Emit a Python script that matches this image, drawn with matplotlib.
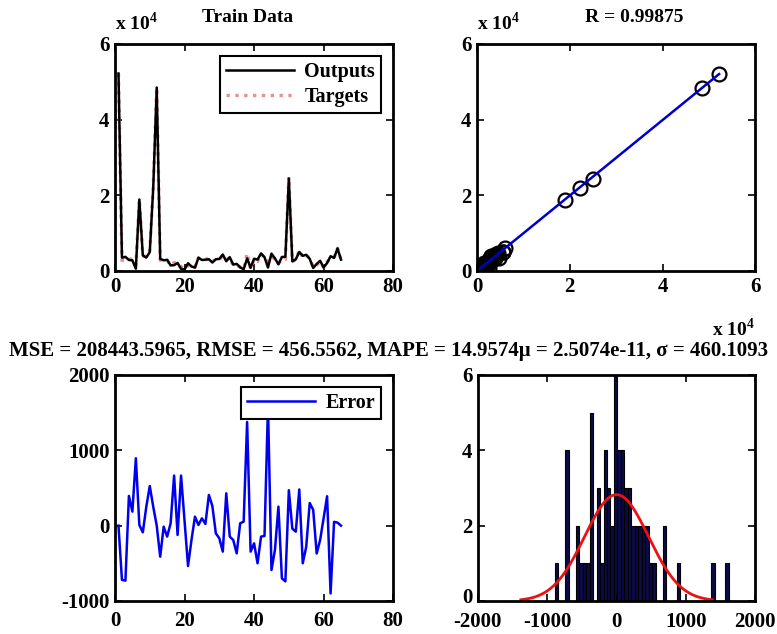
import numpy as np
import matplotlib
matplotlib.use("Agg")
import matplotlib.pyplot as plt
from matplotlib.transforms import ScaledTranslation

plt.rcParams['font.family'] = ['Liberation Serif', 'DejaVu Serif']
plt.rcParams['font.weight'] = 'bold'
plt.rcParams['axes.unicode_minus'] = False
plt.rcParams['mathtext.fontset'] = 'custom'
plt.rcParams['mathtext.rm'] = 'Liberation Serif:bold'
plt.rcParams['mathtext.bf'] = 'Liberation Serif:bold'

# target values (train data)
targets = np.array([
    52200, 2800, 3000, 3300, 3000, 1500, 18900, 4000, 3800, 5500,
    22300, 48500, 2800, 2800, 2800, 1500, 2200, 2000, 1200, 500,
    1500, 1000, 1000, 3500, 3000, 3000, 3500, 2500, 3000, 3000,
    4000, 3000, 3500, 1500, 1500, 1000, 500, 4700, 500, 3000,
    2500, 4500, 3500, 2500, 4000, 3000, 2000, 3000, 3000, 24900,
    2500, 3000, 5500, 3500, 4000, 3500, 1000, 1500, 2500, 1000,
    2500, 3000, 3500, 6000, 3000])

# error = targets - outputs
errors = np.array([
    0, -720, -730, 394, 186, 894, 9, -89, 250, 526,
    250, 0, -412, -14, -146, 31, 664, -124, 664, 66,
    -536, -190, 119, 9, 97, 22, 407, 261, -102, -168,
    -345, 429, -146, -190, -368, 31, 53, 1376, -345, -235,
    -500, -146, -137, 1592, -589, -323, 252, -700, -740, 470,
    -40, -80, 480, -500, -280, 300, 210, -370, -190, 100,
    390, -900, 50, 40, 0])

outputs = targets - errors
samples = np.arange(1, len(targets) + 1)

# histogram of the error (50 bins)
hist_counts = [1, 0, 0, 4, 0, 0, 2, 1, 1, 1,
               5, 0, 3, 1, 4, 3, 2, 6, 4, 4,
               3, 3, 2, 2, 2, 2, 2, 1, 1, 0,
               0, 2, 0, 0, 0, 1, 0, 0, 0, 0,
               0, 0, 0, 0, 0, 1, 0, 0, 0, 1]
hist_lo, hist_hi = -889, 1616

mu = 2.5074e-11
sigma = 460.1093
r_value = 0.99875
mse, rmse, mape = 208443.5965, 456.5562, 14.9574

FS_TICK = 15
FS_TITLE = 14
FS_LEG = 14.5


def style_axes(ax, xpad=4):
    ax.tick_params(direction='in', top=True, right=True, length=5, width=1.2,
                   labelsize=FS_TICK, pad=4)
    ax.tick_params(axis='x', pad=xpad)
    for sp in ax.spines.values():
        sp.set_linewidth(2)
    for lab in ax.get_xticklabels() + ax.get_yticklabels():
        lab.set_fontweight('bold')


def add_legend(ax):
    leg = ax.legend(loc='upper right', fontsize=FS_LEG, handlelength=3.4, fancybox=False,
                    edgecolor='black', borderaxespad=0.6, framealpha=1,
                    borderpad=0.3, labelspacing=0.25, handletextpad=0.5)
    leg.get_frame().set_linewidth(1.5)


fig = plt.figure(figsize=(7.77, 6.34), dpi=100)
ax1 = fig.add_axes([0.148, 0.5726, 0.358, 0.358])
ax2 = fig.add_axes([0.614, 0.5726, 0.358, 0.358])
ax3 = fig.add_axes([0.148, 0.0521, 0.358, 0.3565])
ax4 = fig.add_axes([0.615, 0.0521, 0.357, 0.3565])

# --- train data ---
ax1.plot(samples, outputs, color='black', lw=1.8, zorder=3, label='Outputs')
ax1.plot(samples, targets, color='#e89090', lw=2.4, ls=':', zorder=2, label='Targets')
ax1.set_xlim(0, 80)
ax1.set_ylim(0, 60000)
ax1.set_xticks([0, 20, 40, 60, 80])
ax1.set_yticks([0, 20000, 40000, 60000])
ax1.set_yticklabels(['0', '2', '4', '6'])
ax1.text(0.475, 1.115, 'Train Data', transform=ax1.transAxes, fontsize=FS_TITLE,
         ha='center', va='center')
ax1.text(0.0, 1.045, 'x 10$^4$', transform=ax1.transAxes, fontsize=FS_TITLE, va='bottom')
add_legend(ax1)
style_axes(ax1)

# --- regression ---
coef = np.polyfit(targets, outputs, 1)
t_line = np.array([targets.min(), targets.max()])
ax2.plot(targets, outputs, 'o', mfc='none', mec='black', ms=10, mew=1.6)
ax2.plot(t_line, np.polyval(coef, t_line), color='#0000cc', lw=1.8)
ax2.set_xlim(0, 60000)
ax2.set_ylim(0, 60000)
ax2.set_xticks([0, 20000, 40000, 60000])
ax2.set_xticklabels(['0', '2', '4', '6'])
ax2.set_yticks([0, 20000, 40000, 60000])
ax2.set_yticklabels(['0', '2', '4', '6'])
ax2.text(0.565, 1.115, 'R = %.5f' % r_value, transform=ax2.transAxes, fontsize=FS_TITLE,
         ha='center', va='center')
ax2.text(0.0, 1.045, 'x 10$^4$', transform=ax2.transAxes, fontsize=FS_TITLE, va='bottom')
ax2.text(1.0, -0.255, 'x 10$^4$', transform=ax2.transAxes, fontsize=FS_TITLE,
         va='center', ha='right')
style_axes(ax2)

# --- error ---
ax3.plot(samples, errors, color='#0000ee', lw=1.8, label='Error')
ax3.set_xlim(0, 80)
ax3.set_ylim(-1000, 2000)
ax3.set_xticks([0, 20, 40, 60, 80])
ax3.set_yticks([-1000, 0, 1000, 2000])
add_legend(ax3)
style_axes(ax3, xpad=7)

# --- error histogram ---
nb = len(hist_counts)
width = (hist_hi - hist_lo) / nb
centers = hist_lo + width * (np.arange(nb) + 0.5)
ax4.bar(centers, hist_counts, width=width, color='#0b0b45', edgecolor='black', lw=0.8)
xg = np.linspace(mu - 3 * sigma, mu + 3 * sigma, 200)
yg = len(errors) * width * np.exp(-0.5 * ((xg - mu) / sigma) ** 2) / (sigma * np.sqrt(2 * np.pi))
ax4.plot(xg, yg, color='#ee1111', lw=2)
ax4.set_xlim(-2000, 2000)
ax4.set_ylim(0, 6)
ax4.set_xticks([-2000, -1000, 0, 1000, 2000])
ax4.set_yticks([0, 2, 4, 6])
style_axes(ax4, xpad=8)
# lift the lowest y label a little so it clears the "-2000" label
zero_lab = ax4.yaxis.get_major_ticks()[0].label1
zero_lab.set_transform(zero_lab.get_transform() + ScaledTranslation(0, 4 / 72, fig.dpi_scale_trans))

fig.text(0.5, 0.446, 'MSE = %.4f, RMSE = %.4f, MAPE = %.4f\u03bc = %.4e, \u03c3 = %.4f'
         % (mse, rmse, mape, mu, sigma),
         ha='center', va='center', fontsize=15, fontweight='bold')

fig.savefig('out.png', dpi=100, facecolor='white')
